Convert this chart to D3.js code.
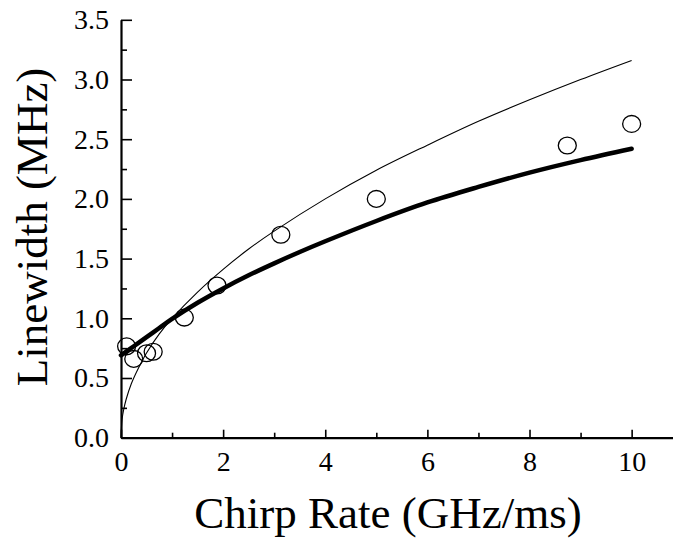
<!DOCTYPE html>
<html>
<head>
<meta charset="utf-8">
<script src="https://d3js.org/d3.v7.min.js"></script>
<style>
  body { margin: 0; background: #fff; }
  svg { display: block; }
  svg text { font-family: 'Liberation Serif', 'Times New Roman', serif; fill: #000; }
</style>
</head>
<body>
<div id="chart"></div>
<script>
// measured points
var chirpRate = [0.11, 0.25, 0.5, 0.63, 1.24, 1.88, 3.13, 5.0, 8.74, 10.0];
var linewidth = [0.765, 0.66, 0.707, 0.72, 1.006, 1.275, 1.70, 2.0, 2.447, 2.628];

// thin fit curve
var thinX = [0, 0.02, 0.05, 0.1, 0.2, 0.35, 0.5, 0.75, 1, 1.5, 2, 2.5, 3, 4, 5, 6, 7, 8, 9, 10];
var thinY = [0, 0.15, 0.23, 0.32, 0.45, 0.59, 0.71, 0.87, 1.0, 1.22, 1.41, 1.58, 1.73, 2.0, 2.24, 2.45, 2.65, 2.83, 3.0, 3.16];

// thick fit curve
var thickX = [0, 0.25, 0.5, 0.75, 1, 1.5, 2, 2.5, 3, 3.5, 4, 5, 6, 7, 8, 9, 10];
var thickY = [0.69, 0.766, 0.842, 0.919, 0.995, 1.13, 1.25, 1.36, 1.46, 1.555, 1.645, 1.815, 1.97, 2.10, 2.22, 2.325, 2.42];

var xTicks = [0, 2, 4, 6, 8, 10];
var xMinor = [1, 3, 5, 7, 9];
var yTicks = [0, 0.5, 1, 1.5, 2, 2.5, 3, 3.5];
var yMinor = [0.25, 0.75, 1.25, 1.75, 2.25, 2.75, 3.25];

var width = 673, height = 538;

var svg = d3.select("#chart").append("svg")
  .attr("width", width)
  .attr("height", height)
  .style("background-color", "white");

var x = d3.scaleLinear().domain([0, 10.81]).range([121, 673]);
var y = d3.scaleLinear().domain([0, 3.5]).range([437.7, 19.8]);

var line = d3.line()
  .x(function(d) { return x(d[0]); })
  .y(function(d) { return y(d[1]); })
  .curve(d3.curveCatmullRom.alpha(0.5));

svg.append("path")
  .datum(d3.zip(thinX, thinY))
  .attr("d", line)
  .attr("fill", "none")
  .attr("stroke", "black")
  .attr("stroke-width", 1.1);

svg.append("path")
  .datum(d3.zip(thickX, thickY))
  .attr("d", line)
  .attr("fill", "none")
  .attr("stroke", "black")
  .attr("stroke-width", 4.5)
  .attr("stroke-linecap", "round");

svg.selectAll(".pt")
  .data(d3.zip(chirpRate, linewidth))
  .enter().append("ellipse")
  .attr("class", "pt")
  .attr("cx", function(d) { return x(d[0]); })
  .attr("cy", function(d) { return y(d[1]); })
  .attr("rx", 9)
  .attr("ry", 8.4)
  .attr("fill", "none")
  .attr("stroke", "black")
  .attr("stroke-width", 1.3);

// x axis
var xAxis = svg.append("g")
  .attr("transform", "translate(0," + y(0) + ")")
  .call(d3.axisBottom(x).tickValues(xTicks).tickSizeInner(-8).tickSizeOuter(0).tickPadding(13)
    .tickFormat(d3.format("d")));
xAxis.select(".domain").attr("stroke-width", 2.2);
xAxis.selectAll(".tick line").attr("stroke-width", 1.6);
xAxis.selectAll("text").style("font-size", "28px");

svg.append("g")
  .attr("transform", "translate(0," + y(0) + ")")
  .call(d3.axisBottom(x).tickValues(xMinor).tickSize(-5).tickFormat(""))
  .call(function(g) { g.select(".domain").remove(); })
  .selectAll("line").attr("stroke-width", 1.6);

// y axis
var yAxis = svg.append("g")
  .attr("transform", "translate(" + x(0) + ",0)")
  .call(d3.axisLeft(y).tickValues(yTicks).tickSizeInner(-11).tickSizeOuter(0).tickPadding(12)
    .tickFormat(d3.format(".1f")));
yAxis.select(".domain").attr("stroke-width", 2.2);
yAxis.selectAll(".tick line").attr("stroke-width", 1.6);
yAxis.selectAll("text").style("font-size", "28px");

svg.append("g")
  .attr("transform", "translate(" + x(0) + ",0)")
  .call(d3.axisLeft(y).tickValues(yMinor).tickSize(-6).tickFormat(""))
  .call(function(g) { g.select(".domain").remove(); })
  .selectAll("line").attr("stroke-width", 1.6);

// titles
svg.append("text")
  .attr("x", 388)
  .attr("y", 528)
  .attr("text-anchor", "middle")
  .style("font-size", "45px")
  .text("Chirp Rate (GHz/ms)");

svg.append("text")
  .attr("transform", "translate(47,227) rotate(-90)")
  .attr("text-anchor", "middle")
  .style("font-size", "45px")
  .text("Linewidth (MHz)");
</script>
</body>
</html>
